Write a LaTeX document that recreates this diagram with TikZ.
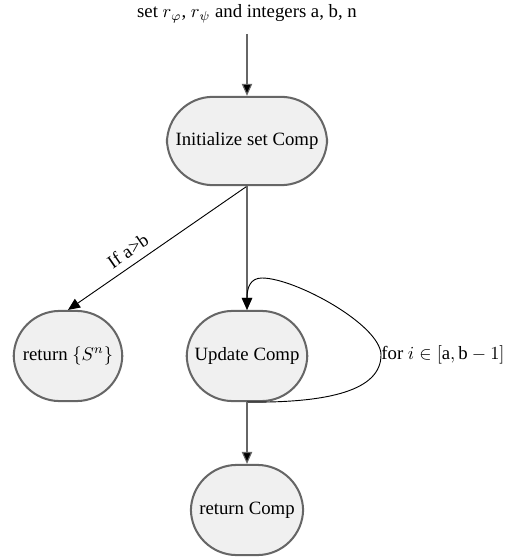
\documentclass[tikz,border=0pt]{standalone}
\usepackage{fontspec}
\setmainfont{Liberation Serif}
\usetikzlibrary{arrows.meta}
\definecolor{nodeborder}{HTML}{666666}
\definecolor{nodefill}{HTML}{F0F0F0}
\definecolor{linegray}{HTML}{666666}
\begin{document}
\begin{tikzpicture}[x=0.5435pt,y=-0.5435pt,
  term/.style={draw=nodeborder, fill=nodefill, line width=1.1pt, rounded corners=25pt,
    minimum height=49pt, inner sep=2pt, font=\fontsize{10.2}{12}\selectfont},
  tip/.style={-{Triangle[length=6.5pt,width=5.6pt,fill=black]}},
  garrow/.style={tip, draw=linegray, line width=0.6pt},
  barrow/.style={tip, draw=black, line width=0.5pt},
  lbl/.style={font=\fontsize{10.2}{12}\selectfont, inner sep=1pt}]
\useasboundingbox (0,0) rectangle (524,559);
\node[lbl] (input) at (247,14) {set $r_\varphi$, $r_\psi$ and integers a, b, n};
\node[term, minimum width=87pt, minimum height=48pt] (init) at (247,141) {Initialize set Comp};
\node[term, minimum width=59pt] (rets) at (68,356) {return $\{S^n\}$};
\node[term, minimum width=65.5pt] (upd) at (247,356) {Update Comp};
\node[term, minimum width=61pt] (retc) at (247,510) {return Comp};
\coordinate (top) at (247,34);
\coordinate (loopR) at (381,355);
\coordinate (loopT) at (262,278);
\draw[garrow] (top) -- (init.north);
\draw[barrow] (init.south) -- node[lbl, pos=0.62, sloped, above=3pt] {If a>b} (rets.north);
\draw[garrow] (init.south) -- (upd.north);
\draw[barrow] (upd.south) .. controls (330,403) and (381,390) .. (loopR)
  .. controls (381,325) and (295,278) .. (loopT)
  .. controls (250,278) and (247,288) .. (upd.north);
\node[lbl, anchor=west, inner sep=0pt] (looplbl) at (loopR) {for $i\in[\mathrm{a},\mathrm{b}-1]$};
\draw[garrow] (upd.south) -- (retc.north);
\end{tikzpicture}
\end{document}
